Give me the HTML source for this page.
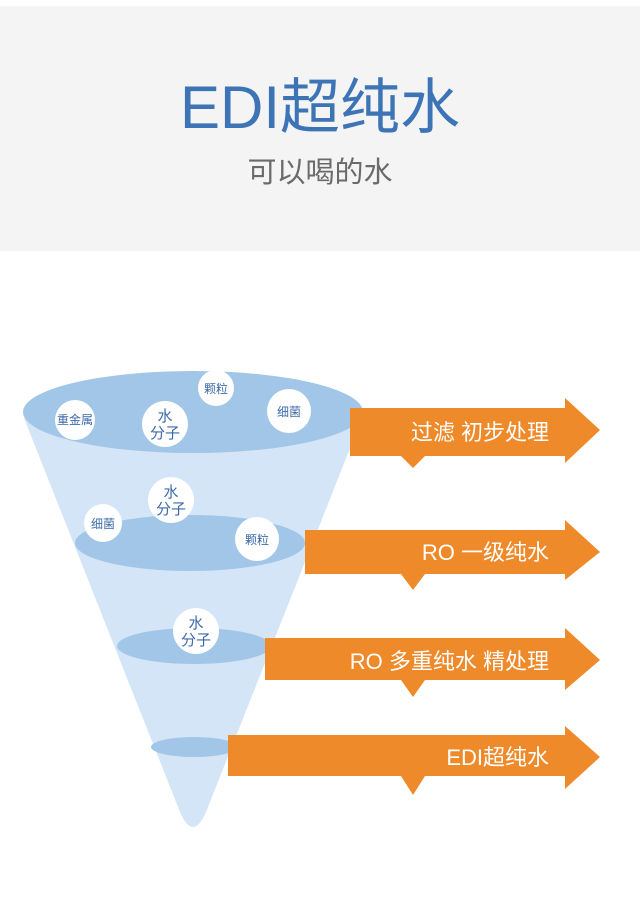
<!DOCTYPE html>
<html><head><meta charset="utf-8"><style>
html,body{margin:0;padding:0;background:#fff;}
svg{display:block;}
text{font-family:"Liberation Sans","Noto Sans CJK SC",sans-serif;}
</style></head><body>
<svg width="640" height="914" viewBox="0 0 640 914" xmlns="http://www.w3.org/2000/svg">
<rect x="0" y="6" width="640" height="245" fill="#f4f4f4"/>
<text x="320" y="128" font-size="60" fill="#3c74b6" text-anchor="middle">EDI超纯水</text>
<text x="320" y="182" font-size="29" fill="#6a6a6a" text-anchor="middle">可以喝的水</text>

<!-- cone -->
<path d="M24,418 L180,812 Q193,842 206,812 L362,418 Z" fill="#d3e5f6"/>
<ellipse cx="193" cy="412" rx="170" ry="41" fill="#a2c6e7"/>
<ellipse cx="190" cy="543" rx="115" ry="28" fill="#a2c6e7"/>
<ellipse cx="194" cy="646" rx="77" ry="18" fill="#a2c6e7"/>
<ellipse cx="194" cy="747" rx="43" ry="10" fill="#a2c6e7"/>

<!-- arrows -->
<g fill="#ee8a2a">
<path d="M350,408 H565 V398 L600,430 L565,463 V456 H425 L413,468 L401,456 H350 Z"/>
<path d="M305,530 H565 V520 L600,552 L565,580 V574 H425 L413,590 L401,574 H305 Z"/>
<path d="M265,638 H565 V628 L600,660 L565,690 V680 H425 L413,697 L401,680 H265 Z"/>
<path d="M228,735 H565 V726 L600,757 L565,789 V776 H425 L413,795 L401,776 H228 Z"/>
</g>
<g fill="#fff" font-size="22" text-anchor="end">
<text x="549" y="440">过滤 初步处理</text>
<text x="549" y="560">RO 一级纯水</text>
<text x="549" y="669">RO 多重纯水 精处理</text>
<text x="549" y="765">EDI超纯水</text>
</g>

<!-- particles -->
<g fill="#fff">
<circle cx="75" cy="420" r="20"/>
<circle cx="165" cy="424" r="23"/>
<circle cx="216" cy="388" r="18"/>
<circle cx="289" cy="411" r="22"/>
<circle cx="171" cy="500" r="23"/>
<circle cx="103" cy="523" r="19"/>
<circle cx="257" cy="539" r="22"/>
<circle cx="196" cy="631" r="23"/>
</g>
<g fill="#3c6aa8" font-size="12" text-anchor="middle">
<text x="75" y="424">重金属</text>
<text x="216" y="393">颗粒</text>
<text x="289" y="416">细菌</text>
<text x="103" y="528">细菌</text>
<text x="257" y="544">颗粒</text>
</g>
<g fill="#3c6aa8" font-size="15" text-anchor="middle">
<text x="165" y="421">水</text><text x="165" y="438">分子</text>
<text x="171" y="497">水</text><text x="171" y="514">分子</text>
<text x="196" y="628">水</text><text x="196" y="645">分子</text>
</g>
</svg>
</body></html>
